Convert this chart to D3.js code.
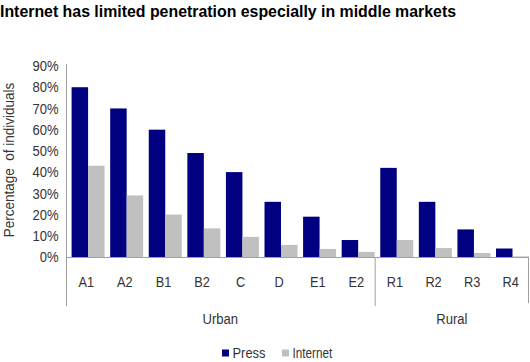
<!DOCTYPE html>
<html><head><meta charset="utf-8">
<script src="https://cdn.jsdelivr.net/npm/d3@7"></script>
<style>
html,body{margin:0;padding:0;background:#fff;}
svg{display:block;font-family:"Liberation Sans",Arial,sans-serif;}
</style></head>
<body>
<svg id="chart" width="530" height="362"></svg>
<script>
const title = "Internet has limited penetration especially in middle markets";
const categories = ["A1","A2","B1","B2","C","D","E1","E2","R1","R2","R3","R4"];
const groups = [{name:"Urban", members:["A1","A2","B1","B2","C","D","E1","E2"]},
                {name:"Rural", members:["R1","R2","R3","R4"]}];
const seriesNames = ["Press","Internet"];
const pressValues = [0.80,0.70,0.60,0.49,0.40,0.26,0.19,0.08,0.42,0.26,0.13,0.04];
const internetValues = [0.43,0.29,0.20,0.135,0.095,0.057,0.038,0.024,0.08,0.042,0.019,0.003];
const yTicks = [0,0.1,0.2,0.3,0.4,0.5,0.6,0.7,0.8,0.9];
const colors = ["#000080","#c0c0c0"];
const yTitle = "Percentage\u00a0 of individuals";

(function(){
const svg = d3.select("#chart");
const mLeft = 66, mRight = 529, mTop = 66, mBottom = 257;
const SX = 0.88, textColor = "#333";

function addText(tx, ty, str, opts){
  opts = opts || {};
  const t = svg.append("text")
    .attr("transform", `translate(${tx},${ty})` + (opts.rotate ? ` rotate(${opts.rotate})` : "") + ` scale(${opts.sx || SX},1)`)
    .attr("text-anchor", opts.anchor || "start")
    .attr("font-size", opts.size || 14.5)
    .attr("fill", opts.fill || textColor)
    .text(str);
  if (opts.dy) t.attr("dy", opts.dy);
  if (opts.weight) t.attr("font-weight", opts.weight);
  return t;
}

svg.append("text").attr("x",0).attr("y",17).attr("font-size",16).attr("font-weight","bold")
  .attr("fill","#000").attr("textLength",456).attr("lengthAdjust","spacingAndGlyphs").text(title);

const x = d3.scaleBand().domain(categories).range([mLeft,mRight]).padding(0);
const bw = x.bandwidth();
const xs = d3.scaleBand().domain(seriesNames).range([bw*0.145, bw]).padding(0);
const y = d3.scaleLinear().domain([0,0.9]).range([mBottom,mTop]);

const data = categories.map((c,i)=>({cat:c, vals:[pressValues[i], internetValues[i]]}));

const g = svg.append("g");
data.forEach(d=>{
  d.vals.forEach((v,j)=>{
    g.append("rect")
      .attr("x", x(d.cat)+xs(seriesNames[j]))
      .attr("width", xs.bandwidth())
      .attr("y", y(v))
      .attr("height", y(0)-y(v))
      .attr("fill", colors[j]);
  });
});

const axisColor = "#a0a0a0";
svg.append("line").attr("x1",mLeft+0.5).attr("x2",mLeft+0.5).attr("y1",64).attr("y2",306).attr("stroke",axisColor);
svg.append("line").attr("x1",mLeft).attr("x2",mRight).attr("y1",y(0)+0.5).attr("y2",y(0)+0.5).attr("stroke",axisColor);
yTicks.forEach(d=>addText(58.5, y(d), d3.format(".0%")(d), {anchor:"end", dy:"0.36em", sx:0.9}));

addText(14, 160, yTitle, {rotate:-90, anchor:"middle", size:15, sx:0.9});

categories.forEach(d=>addText(x(d)+bw/2+1, 287, d, {anchor:"middle"}));

groups.forEach((gr,i)=>{
  const x0 = x(gr.members[0]);
  const x1 = x(gr.members[gr.members.length-1])+bw;
  if(i>0) svg.append("line").attr("x1",x0+0.5).attr("x2",x0+0.5).attr("y1",y(0)).attr("y2",306).attr("stroke",axisColor);
  if(i===groups.length-1) svg.append("line").attr("x1",x1-0.5).attr("x2",x1-0.5).attr("y1",y(0)).attr("y2",303).attr("stroke",axisColor);
  addText((x0+x1)/2, 323.5, gr.name, {anchor:"middle", sx:0.9});
});

const legendPos = [222, 282];
seriesNames.forEach((s,i)=>{
  svg.append("rect").attr("x",legendPos[i]).attr("y",349.5).attr("width",7).attr("height",7).attr("fill",colors[i]);
  addText(legendPos[i]+10.5, 358, s, {size:15, sx: i===0 ? 0.86 : 0.78});
});
})();
</script>
</body></html>
